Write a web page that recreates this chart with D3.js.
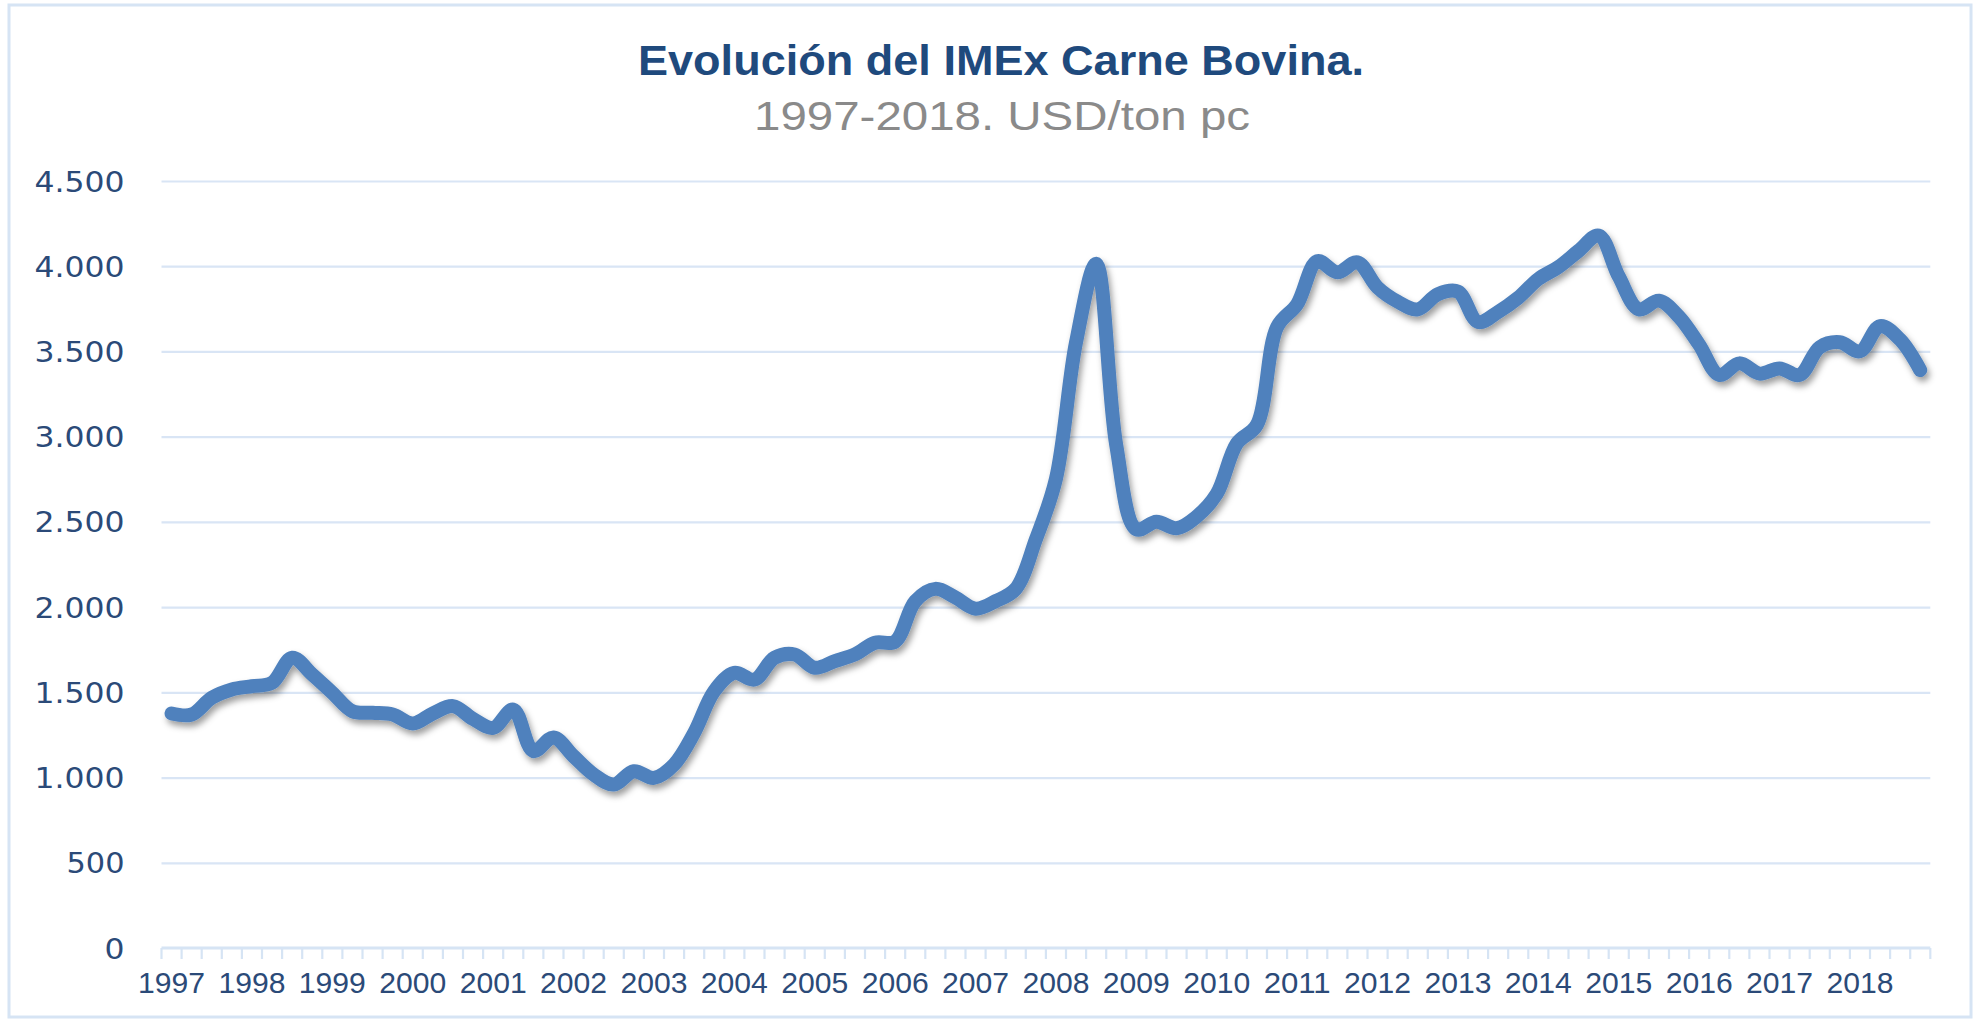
<!DOCTYPE html>
<html>
<head>
<meta charset="utf-8">
<script src="https://cdn.jsdelivr.net/npm/d3@7/dist/d3.min.js"></script>
<style>
  html, body { margin: 0; padding: 0; background: #ffffff; }
  svg { display: block; }
</style>
</head>
<body>
<svg id="chart" width="1980" height="1021"></svg>
<script>
// ---- data ----
const titleText = "Evolución del IMEx Carne Bovina.";
const subtitleText = "1997-2018. USD/ton pc";
const years = [1997,1998,1999,2000,2001,2002,2003,2004,2005,2006,2007,2008,2009,2010,2011,2012,2013,2014,2015,2016,2017,2018];
const quarters = ["T1","T2","T3","T4"];
const values = [
  1376,1370,1468,1517, 1536,1556,1703,1605, 1497,1389,1380,1370, 1317,1376,1419,1344,
  1292,1399,1155,1235, 1125,1018,959,1037, 998,1076,1262,1507, 1614,1575,1703,1722,
  1644,1683,1722,1791, 1798,2035,2107,2056, 1991,2035,2107,2397, 2753,3554,4014,2950,
  2457,2501,2463,2531, 2664,2960,3070,3643, 3777,4029,3964,4023, 3875,3792,3747,3836,
  3851,3673,3732,3815, 3925,3995,4090,4180, 3940,3747,3798,3703, 3540,3362,3430,3370,
  3400,3362,3525,3554, 3501,3649,3569,3391
];
const yTicks = [0,500,1000,1500,2000,2500,3000,3500,4000,4500];

// ---- layout ----
const categories = years.flatMap(y => quarters.map(q => y + "-" + q));
const plot = { left: 161.5, right: 1930.3, top: 181, bottom: 948 };

const svg = d3.select("#chart");

// frame
svg.append("rect")
  .attr("x", 9).attr("y", 5)
  .attr("width", 1962).attr("height", 1012)
  .attr("fill", "#ffffff")
  .attr("stroke", "#d6e4f4").attr("stroke-width", 3);

const defs = svg.append("defs");
const f = defs.append("filter").attr("id", "shadow")
  .attr("x", "-5%").attr("y", "-5%").attr("width", "110%").attr("height", "110%");
f.append("feDropShadow")
  .attr("dx", 2.5).attr("dy", 4.5).attr("stdDeviation", 3)
  .attr("flood-color", "#000").attr("flood-opacity", 0.38);

const x = d3.scaleBand().domain(categories).range([plot.left, plot.right]).padding(0);
const y = d3.scaleLinear().domain([0, 4500]).range([plot.bottom, plot.top]);

const locale = d3.formatLocale({ decimal: ",", thousands: ".", grouping: [3], currency: ["", ""] });
const fmt = locale.format(",d");

// grid + y labels
const yAxis = d3.axisLeft(y)
  .tickValues(yTicks)
  .tickSize(-(plot.right - plot.left))
  .tickPadding(37)
  .tickFormat(fmt);
const gy = svg.append("g").attr("transform", `translate(${plot.left},0)`).call(yAxis);
gy.select(".domain").remove();
gy.selectAll(".tick line")
  .attr("stroke", "#d9e5f5").attr("stroke-width", 2.2)
  .filter(d => d === 0).remove();
gy.selectAll(".tick text")
  .attr("fill", "#2b4a78")
  .attr("font-family", "DejaVu Sans, Verdana, sans-serif")
  .attr("font-size", 28)
  .attr("dy", "0.36em")
  .attr("textLength", function(d){ return fmt(d).length === 1 ? 20 : (fmt(d).length === 3 ? 58 : 90); })
  .attr("lengthAdjust", "spacingAndGlyphs");

// category axis: baseline + boundary ticks
const gx = svg.append("g").attr("transform", `translate(0,${plot.bottom})`);
gx.append("line")
  .attr("x1", plot.left).attr("x2", plot.right)
  .attr("stroke", "#d6e4f4").attr("stroke-width", 3);
const boundaries = categories.map(c => x(c)).concat([plot.right]);
gx.selectAll("line.tk").data(boundaries).join("line")
  .attr("class", "tk")
  .attr("x1", d => d).attr("x2", d => d)
  .attr("y1", 0).attr("y2", 11)
  .attr("stroke", "#d6e4f4").attr("stroke-width", 2.2);

const xAxis = d3.axisBottom(x)
  .tickValues(categories.filter(c => c.endsWith("T1")))
  .tickSize(0).tickPadding(24)
  .tickFormat(c => c.split("-")[0]);
const gxl = svg.append("g").attr("transform", `translate(0,${plot.bottom})`).call(xAxis);
gxl.select(".domain").remove();
gxl.selectAll(".tick text")
  .attr("fill", "#2b4a78")
  .attr("font-family", "Liberation Sans Narrow, Liberation Sans, Arial, sans-serif")
  .attr("font-size", 30)
  .attr("textLength", 67)
  .attr("lengthAdjust", "spacingAndGlyphs");

// line
const line = d3.line()
  .x((d, i) => x(categories[i]) + x.bandwidth() / 2)
  .y(d => y(d))
  .curve(d3.curveCatmullRom.alpha(0.5));
svg.append("path")
  .datum(values)
  .attr("d", line)
  .attr("fill", "none")
  .attr("stroke", "#4f81bd")
  .attr("stroke-width", 14)
  .attr("stroke-linecap", "round")
  .attr("stroke-linejoin", "round")
  .attr("filter", "url(#shadow)");

// titles
svg.append("text")
  .attr("x", 1001).attr("y", 75)
  .attr("text-anchor", "middle")
  .attr("font-family", "Liberation Sans Narrow, Liberation Sans, Arial, sans-serif")
  .attr("font-weight", "bold")
  .attr("font-size", 42)
  .attr("fill", "#1f4a7d")
  .attr("textLength", 726).attr("lengthAdjust", "spacingAndGlyphs")
  .text(titleText);
svg.append("text")
  .attr("x", 1002).attr("y", 130)
  .attr("text-anchor", "middle")
  .attr("font-family", "Liberation Sans Narrow, Liberation Sans, Arial, sans-serif")
  .attr("font-size", 40)
  .attr("fill", "#8a8a8a")
  .attr("textLength", 496).attr("lengthAdjust", "spacingAndGlyphs")
  .text(subtitleText);
</script>
</body>
</html>
